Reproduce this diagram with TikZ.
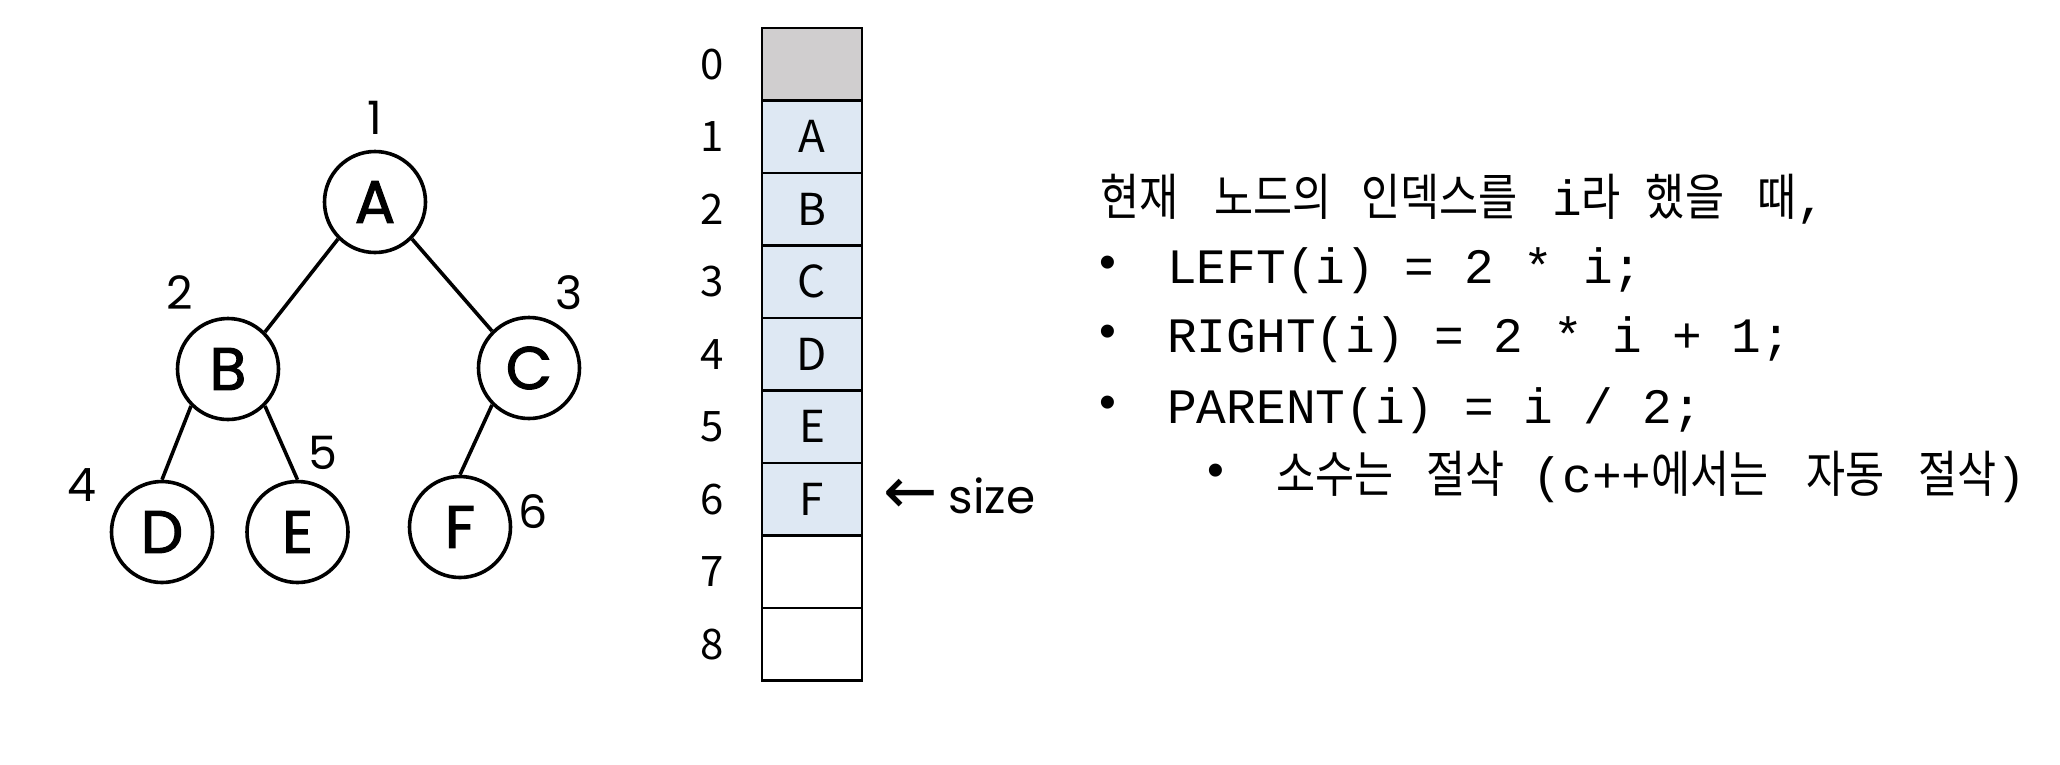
\documentclass[tikz,border=0pt]{standalone}
\usepackage{fontspec}
\newfontfamily\treefont[FakeBold=1.8]{Poppins}
\newfontfamily\labelfont{Poppins}
\newfontfamily\arrfont{Noto Sans CJK KR}
\newfontfamily\krfont[FakeStretch=0.85]{Noto Sans CJK KR}
\newfontfamily\monofont{Liberation Mono}
\newfontfamily\bulfont{Liberation Sans}
\newfontfamily\symfont{DejaVu Sans}
\newcommand\krtext[1]{{\krfont\fontsize{50pt}{50pt}\selectfont #1}}
\newcommand\kgap[1]{\hspace*{#1pt}}
\definecolor{cellgray}{HTML}{D0CECF}
\definecolor{cellblue}{HTML}{DEE8F3}
\tikzset{
  tnode/.style={circle, draw, line width=3.6pt, minimum size=101pt, inner sep=0pt,
    font=\treefont\fontsize{60pt}{72pt}\selectfont},
  tlabel/.style={inner sep=0pt, font=\labelfont\fontsize{46pt}{50pt}\selectfont},
  tedge/.style={line width=3.6pt},
  cellbox/.style={draw, line width=2.8pt, minimum width=100pt, minimum height=72.5pt,
    inner sep=0pt, font=\arrfont\fontsize{44pt}{48pt}\selectfont},
  idxlabel/.style={inner sep=0pt, font=\arrfont\fontsize{42pt}{46pt}\selectfont},
  rtext/.style={anchor=base west, inner sep=0pt, font=\monofont\fontsize{49.5pt}{52pt}\selectfont},
  bullet/.style={inner sep=0pt, font=\bulfont\fontsize{48pt}{52pt}\selectfont}
}
\begin{document}
\begin{tikzpicture}[x=1pt,y=-1pt]
\useasboundingbox (0,0) rectangle (2060,764);
% tree
\node[tnode] (A) at (375,202) {A};
\node[tnode] (B) at (228,369) {B};
\node[tnode] (C) at (529,368) {C};
\node[tnode] (D) at (162,532) {D};
\node[tnode] (E) at (297.5,532) {E};
\node[tnode] (F) at (460,527) {F};
\draw[tedge] (A.south west) -- (B.north east);
\draw[tedge] (A.south east) -- (C.north west);
\draw[tedge] (B.south west) -- (D.north);
\draw[tedge] (B.south east) -- (E.north);
\draw[tedge] (C.south west) -- (F.north);
\node[tlabel] (l1) at (375,118) {1};
\node[tlabel] (l2) at (180,293) {2};
\node[tlabel] (l3) at (569,293) {3};
\node[tlabel] (l4) at (82,485) {4};
\node[tlabel] (l5) at (323,453) {5};
\node[tlabel] (l6) at (533,512) {6};
% array
\node[cellbox, fill=cellgray] (c0) at (812,64.25) {};
\node[cellbox, fill=cellblue] (c1) at (812,136.75) {A};
\node[cellbox, fill=cellblue] (c2) at (812,209.25) {B};
\node[cellbox, fill=cellblue] (c3) at (812,281.75) {C};
\node[cellbox, fill=cellblue] (c4) at (812,354.25) {D};
\node[cellbox, fill=cellblue] (c5) at (812,426.75) {E};
\node[cellbox, fill=cellblue] (c6) at (812,499.25) {F};
\node[cellbox, fill=white] (c7) at (812,571.75) {};
\node[cellbox, fill=white] (c8) at (812,644.25) {};
\node[idxlabel] (i0) at (712,64.25) {0};
\node[idxlabel] (i1) at (712,136.75) {1};
\node[idxlabel] (i2) at (712,209.25) {2};
\node[idxlabel] (i3) at (712,281.75) {3};
\node[idxlabel] (i4) at (712,354.25) {4};
\node[idxlabel] (i5) at (712,426.75) {5};
\node[idxlabel] (i6) at (712,499.25) {6};
\node[idxlabel] (i7) at (712,571.75) {7};
\node[idxlabel] (i8) at (712,644.25) {8};
\node[anchor=base west, inner sep=0pt] (size) at (883,513)
  {{\symfont\fontsize{65pt}{68pt}\selectfont ←}\hspace*{11pt}{\labelfont\fontsize{47pt}{50pt}\selectfont size}};
% text
\node[rtext] (t1) at (1100,215.5) {\krtext{현재}\kgap{36}\krtext{노드의}\kgap{30}\krtext{인덱스를}\kgap{34}i\krtext{라}\kgap{25}\krtext{했을}\kgap{33}\krtext{때},};
\node[bullet] (b2) at (1107.5,267) {•};
\node[rtext] (t2) at (1167,283) {LEFT(i) = 2 * i;};
\node[bullet] (b3) at (1107.5,336) {•};
\node[rtext] (t3) at (1167,352) {RIGHT(i) = 2 * i + 1;};
\node[bullet] (b4) at (1107.5,407) {•};
\node[rtext] (t4) at (1167,423) {PARENT(i) = i / 2;};
\node[bullet] (b5) at (1216,475) {•};
\node[rtext] (t5) at (1276,492.5) {\krtext{소수는}\kgap{33}\krtext{절삭}\kgap{28}(c++\krtext{에서는}\kgap{38}\krtext{자동}\kgap{33}\krtext{절삭})};
\end{tikzpicture}
\end{document}
